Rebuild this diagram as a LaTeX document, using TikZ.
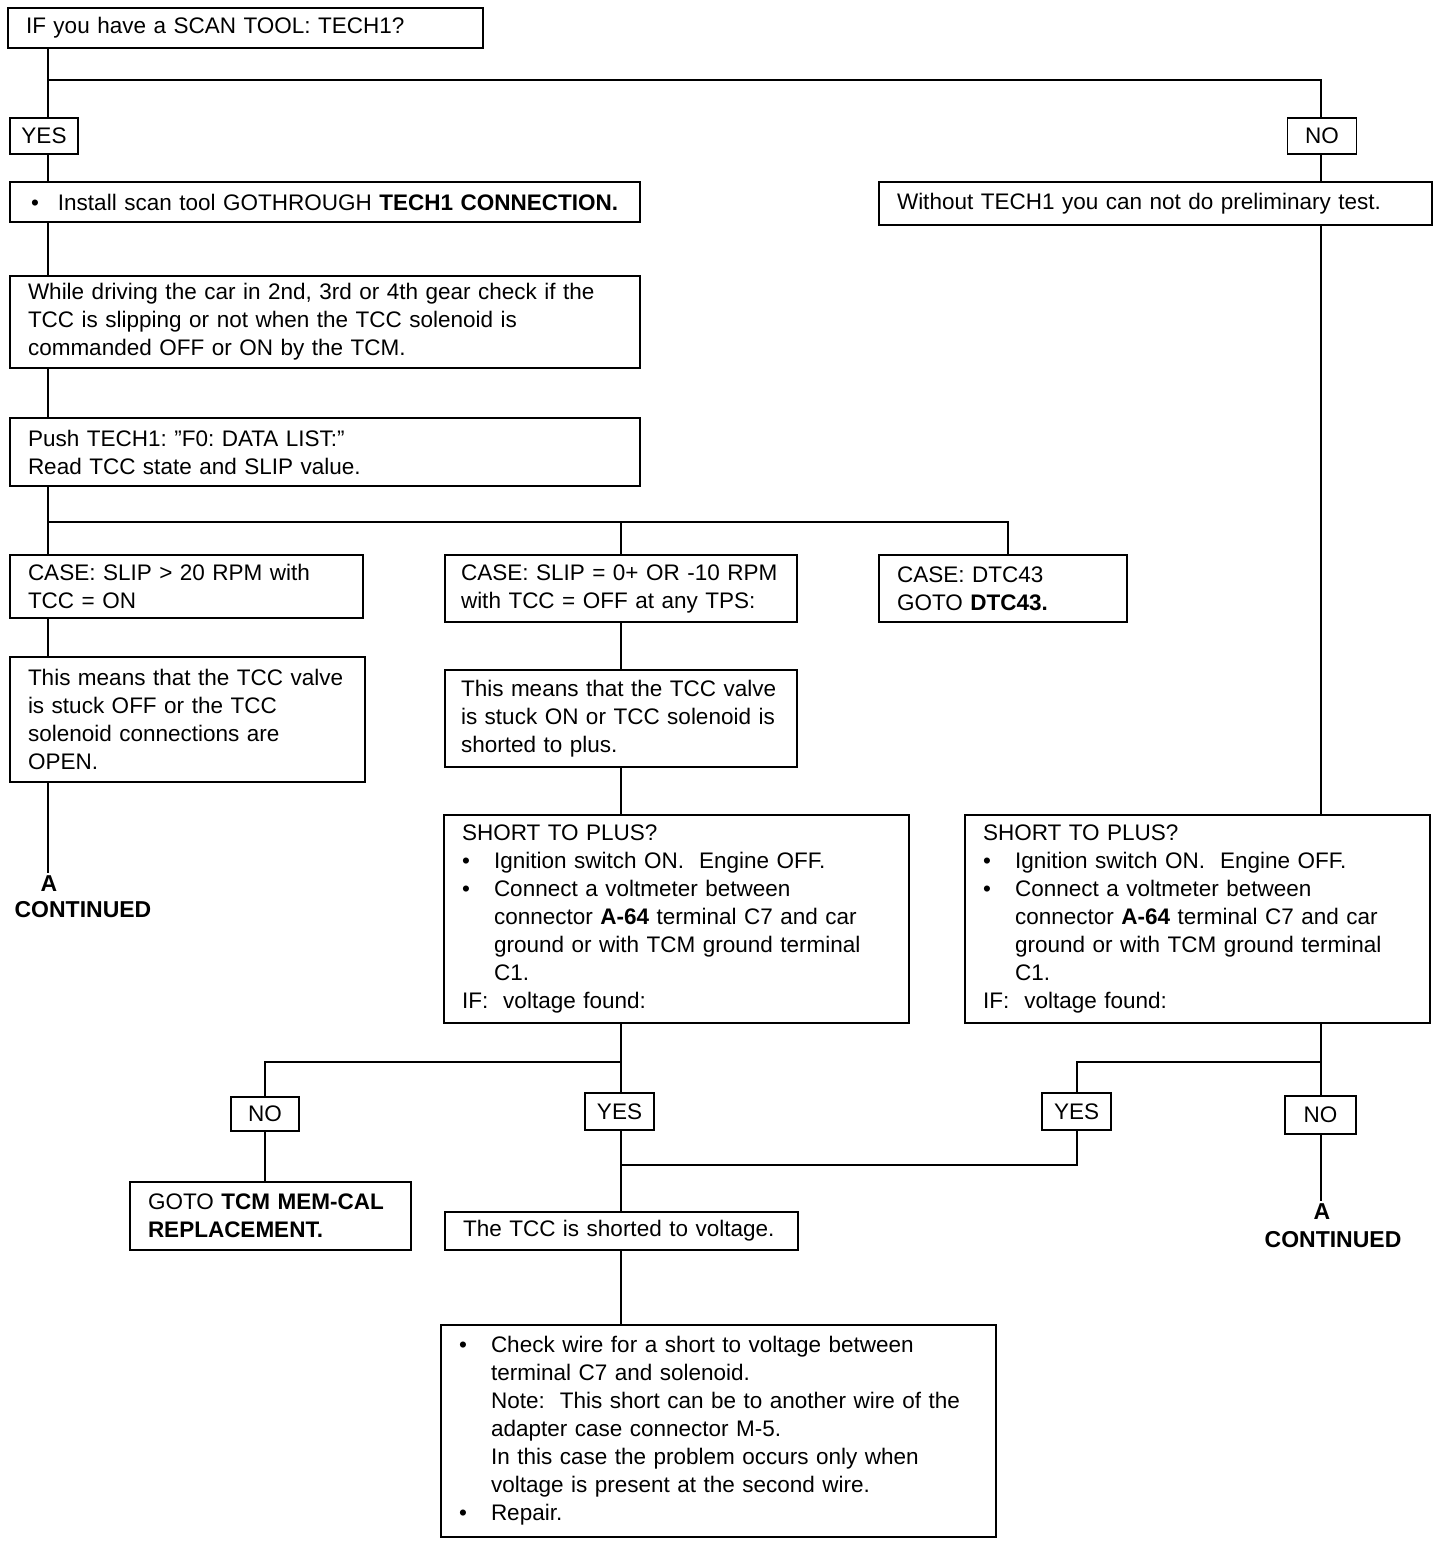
\documentclass[tikz,border=0pt]{standalone}
\usepackage{fontspec}
\setmainfont{Liberation Sans}
\newcommand{\bul}{\makebox[32pt][l]{\textbullet}}
\newcommand{\ind}{\hspace*{32pt}}
\begin{document}
\frenchspacing
\begin{tikzpicture}[x=1pt,y=-1pt,
  font=\fontsize{22.5}{28}\selectfont\frenchspacing,
  bx/.style={draw, line width=1.8pt, inner xsep=18pt, inner ysep=0pt, align=left},
  yn/.style={draw, line width=1.8pt, inner sep=0pt, align=center},
  ln/.style={line width=1.8pt},
  lab/.style={inner sep=3pt, font=\fontsize{23}{28}\selectfont\bfseries}]
\useasboundingbox (0,0) rectangle (1440,1544);
\fill[white] (0,0) rectangle (1440,1544);

% column coordinates
\coordinate (xA) at (48,0);
\coordinate (xB) at (621,0);
\coordinate (xC) at (1008,0);
\coordinate (xD) at (1321,0);
\coordinate (xE) at (265,0);
\coordinate (xF) at (1077,0);
\coordinate (j1) at (48,80);
\coordinate (j2) at (48,522);
\coordinate (j3) at (621,1062);
\coordinate (j4) at (1321,1062);
\coordinate (j5) at (621,1165);

% boxes
\node[bx, minimum height=40pt, text width=439pt] (q) at (245.5,28) {IF you have a SCAN TOOL: TECH1?};
\node[yn, minimum width=68pt, minimum height=36pt] (yes1) at (44,136) {YES};
\node[yn, minimum width=69pt, minimum height=36pt] (no1) at (1322,136) {NO};
\node[bx, minimum height=40pt, text width=594pt] (inst) at (325,202) {\hspace*{3pt}\makebox[27pt][l]{\textbullet}Install scan tool GOTHROUGH \textbf{TECH1 CONNECTION.}};
\node[bx, minimum height=43pt, text width=517pt] (wo) at (1155.5,203.5) {Without TECH1 you can not do preliminary test.};
\node[bx, minimum height=92pt, text width=594pt] (drive) at (325,322) {While driving the car in 2nd, 3rd or 4th gear check if the\\TCC is slipping or not when the TCC solenoid is\\commanded OFF or ON by the TCM.};
\node[bx, minimum height=68pt, text width=594pt] (push) at (325,452) {Push TECH1: ”F0: DATA LIST:”\\Read TCC state and SLIP value.};
\node[bx, minimum height=63pt, text width=317pt] (case1) at (186.5,586.5) {CASE: SLIP > 20 RPM with\\TCC = ON};
\node[bx, inner xsep=16pt, minimum height=67pt, text width=320pt] (case2) at (621,588.5) {CASE: SLIP = 0+ OR -10 RPM\\with TCC = OFF at any TPS:};
\node[bx, minimum height=67pt, text width=212pt] (case3) at (1003,588.5) {CASE: DTC43\\GOTO \textbf{DTC43.}};
\node[bx, minimum height=125pt, text width=319pt] (mean1) at (187.5,719.5) {This means that the TCC valve\\is stuck OFF or the TCC\\solenoid connections are\\OPEN.};
\node[bx, inner xsep=16pt, minimum height=97pt, text width=320pt] (mean2) at (621,718.5) {This means that the TCC valve\\is stuck ON or TCC solenoid is\\shorted to plus.};
\node[bx, minimum height=208pt, text width=429pt] (stp1) at (676.5,919) {SHORT TO PLUS?\\\bul Ignition switch ON.\ \ Engine OFF.\\\bul Connect a voltmeter between\\\ind connector \textbf{A-64} terminal C7 and car\\\ind ground or with TCM ground terminal\\\ind C1.\\IF:\ \ voltage found:};
\node[bx, minimum height=208pt, text width=429pt] (stp2) at (1197.5,919) {SHORT TO PLUS?\\\bul Ignition switch ON.\ \ Engine OFF.\\\bul Connect a voltmeter between\\\ind connector \textbf{A-64} terminal C7 and car\\\ind ground or with TCM ground terminal\\\ind C1.\\IF:\ \ voltage found:};
\node[yn, minimum width=68pt, minimum height=34pt] (no2) at (265,1114) {NO};
\node[yn, minimum width=69pt, minimum height=37pt] (yes2) at (619.5,1111.5) {YES};
\node[yn, minimum width=69pt, minimum height=37pt] (yes3) at (1076.5,1111.5) {YES};
\node[yn, minimum width=71pt, minimum height=38pt] (no3) at (1320.5,1115) {NO};
\node[bx, minimum height=68pt, text width=245pt] (tcm) at (270.5,1216) {GOTO \textbf{TCM MEM-CAL}\\\textbf{REPLACEMENT.}};
\node[bx, minimum height=38pt, text width=317pt] (sh) at (621.5,1231) {The TCC is shorted to voltage.};
\node[bx, minimum height=212pt, text width=519pt] (chk) at (718.5,1431) {\bul Check wire for a short to voltage between\\\ind terminal C7 and solenoid.\\\ind Note:\ \ This short can be to another wire of the\\\ind adapter case connector M-5.\\\ind In this case the problem occurs only when\\\ind voltage is present at the second wire.\\\bul Repair.};

% continuation labels
\node[lab] (a1) at (49,884) {A};
\node[lab] (c1) at (83,910) {CONTINUED};
\node[lab] (a2) at (1322,1212) {A};
\node[lab] (c2) at (1333,1240) {CONTINUED};

% connectors
\draw[ln] (xA |- q.south) -- (xA |- yes1.north);
\draw[ln] (j1) -| (xD |- no1.north);
\draw[ln] (xA |- yes1.south) -- (xA |- inst.north);
\draw[ln] (xA |- inst.south) -- (xA |- drive.north);
\draw[ln] (xA |- drive.south) -- (xA |- push.north);
\draw[ln] (xA |- push.south) -- (xA |- case1.north);
\draw[ln] (j2) -| (xC |- case3.north);
\draw[ln] (xB |- j2) -- (xB |- case2.north);
\draw[ln] (xA |- case1.south) -- (xA |- mean1.north);
\draw[ln] (xA |- mean1.south) -- (xA |- a1.north);
\draw[ln] (xB |- case2.south) -- (xB |- mean2.north);
\draw[ln] (xB |- mean2.south) -- (xB |- stp1.north);
\draw[ln] (xB |- stp1.south) -- (xB |- yes2.north);
\draw[ln] (j3) -| (xE |- no2.north);
\draw[ln] (xE |- no2.south) -- (xE |- tcm.north);
\draw[ln] (xB |- yes2.south) -- (xB |- sh.north);
\draw[ln] (xB |- sh.south) -- (xB |- chk.north);
\draw[ln] (xD |- no1.south) -- (xD |- wo.north);
\draw[ln] (xD |- wo.south) -- (xD |- stp2.north);
\draw[ln] (xD |- stp2.south) -- (xD |- no3.north);
\draw[ln] (j4) -| (xF |- yes3.north);
\draw[ln] (xF |- yes3.south) |- (j5);
\draw[ln] (xD |- no3.south) -- (xD |- a2.north);
\end{tikzpicture}
\end{document}
